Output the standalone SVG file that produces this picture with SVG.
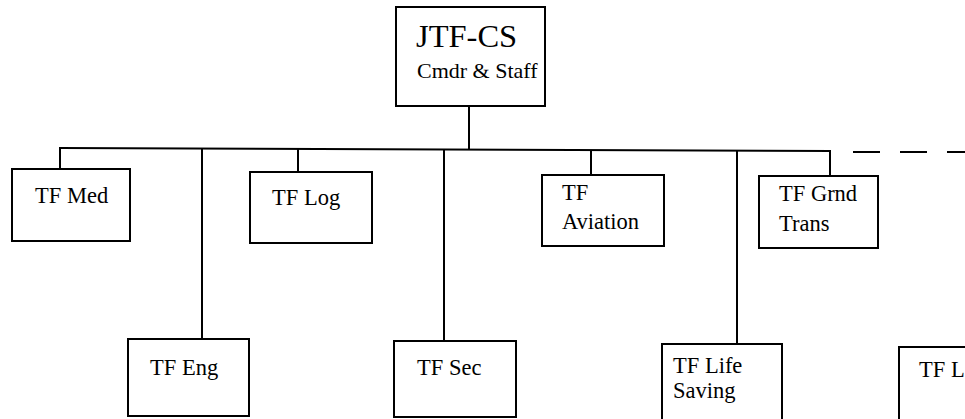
<svg xmlns="http://www.w3.org/2000/svg" width="965" height="419" viewBox="0 0 965 419">
<style>
.box{fill:#fff;stroke:#000;stroke-width:2}
.t{font-family:"Liberation Serif","Times New Roman",serif;font-size:22.5px;fill:#000}
.ln{stroke:#000;stroke-width:2;fill:none}
</style>
<rect width="965" height="419" fill="#fff"/>
<g id="connectors">
<line class="ln" x1="469" y1="106" x2="469" y2="150"/>
<line class="ln" x1="60" y1="148" x2="831" y2="151"/>
<line class="ln" x1="60" y1="147" x2="60" y2="169"/>
<line class="ln" x1="202" y1="148" x2="202" y2="339"/>
<line class="ln" x1="298" y1="149" x2="298" y2="172"/>
<line class="ln" x1="444" y1="150" x2="444" y2="341"/>
<line class="ln" x1="591" y1="150" x2="591" y2="175"/>
<line class="ln" x1="737" y1="150" x2="737" y2="344"/>
<line class="ln" x1="830" y1="150" x2="830" y2="176"/>
<line class="ln" x1="853" y1="152" x2="965" y2="152" stroke-dasharray="27,20"/>
</g>
<g id="jtf-cs">
<rect class="box" x="396" y="7" width="149" height="99"/>
<text class="t" x="416" y="47" style="font-size:32.5px">JTF-CS</text>
<text class="t" x="417" y="78" style="font-size:22px">Cmdr &amp; Staff</text>
</g>
<g id="tf-med">
<rect class="box" x="12" y="169" width="118" height="72"/>
<text class="t" x="35" y="203">TF Med</text>
</g>
<g id="tf-log">
<rect class="box" x="250" y="172" width="122" height="71"/>
<text class="t" x="272" y="205">TF Log</text>
</g>
<g id="tf-aviation">
<rect class="box" x="542" y="175" width="122" height="71"/>
<text class="t" x="562" y="200">TF</text>
<text class="t" x="562" y="229">Aviation</text>
</g>
<g id="tf-grnd-trans">
<rect class="box" x="759" y="176" width="119" height="72"/>
<text class="t" x="779" y="201">TF Grnd</text>
<text class="t" x="779" y="231">Trans</text>
</g>
<g id="tf-eng">
<rect class="box" x="128" y="339" width="121" height="77"/>
<text class="t" x="150" y="375">TF Eng</text>
</g>
<g id="tf-sec">
<rect class="box" x="394" y="341" width="122" height="76"/>
<text class="t" x="417" y="375">TF Sec</text>
</g>
<g id="tf-life-saving">
<rect class="box" x="662" y="344" width="120" height="80"/>
<text class="t" x="673" y="373">TF Life</text>
<text class="t" x="673" y="398">Saving</text>
</g>
<g id="tf-l">
<rect class="box" x="899" y="347" width="80" height="80"/>
<text class="t" x="919" y="377">TF L</text>
</g>
</svg>
